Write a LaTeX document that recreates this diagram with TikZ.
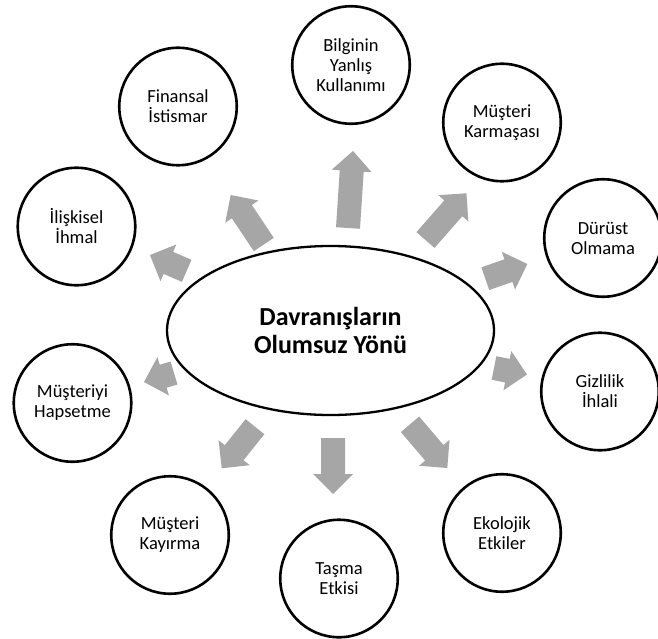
\documentclass[tikz,border=0pt]{standalone}
\usepackage{fontspec}
\setmainfont{Carlito}
\usetikzlibrary{calc,shapes.geometric}
\definecolor{arrowgray}{HTML}{A6A6A6}
% block arrow from tail coordinate #1 to tip coordinate #2
\newcommand\myblockarrow[2]{%
  \coordinate (ba-h) at ($(#2)!20pt!(#1)$);
  \fill[arrowfill] ($(#1)!12pt!90:(#2)$) -- ($(ba-h)!12pt!-90:(#1)$) -- ($(ba-h)!20pt!-90:(#1)$) -- (#2)
    -- ($(ba-h)!20pt!90:(#1)$) -- ($(ba-h)!12pt!90:(#1)$) -- ($(#1)!12pt!-90:(#2)$) -- cycle;}
\begin{document}
\begin{tikzpicture}[x=1pt,y=-1pt,
  bubble/.style={circle, draw=black, line width=2.6pt, minimum size=117.5pt, inner sep=0pt,
    align=center, font=\fontsize{18.5}{20}\selectfont},
  hub/.style={ellipse, draw=black, line width=2.3pt, minimum width=327pt, minimum height=169pt,
    inner sep=0pt, align=center, font=\bfseries\fontsize{26}{28}\selectfont},
  arrowfill/.style={fill=arrowgray}]
\fill[white] (0,0) rectangle (658,639);
\useasboundingbox (0,0) rectangle (658,639);

\node[hub] (hub) at (330.5,330.5) {Davranışların\\Olumsuz Yönü};

\node[bubble] (bilgi)  at (351,65)    {Bilginin\\Yanlış\\Kullanımı};
\node[bubble] (finans) at (178,106.5) {Finansal\\İstismar};
\node[bubble] (karma)  at (502,122.5) {Müşteri\\Karmaşası};
\node[bubble] (iliski) at (76.5,226.5) {İlişkisel\\İhmal};
\node[bubble] (durust) at (603,238)   {Dürüst\\Olmama};
\node[bubble] (hapset) at (72.5,403)  {Müşteriyi\\Hapsetme};
\node[bubble] (gizli)  at (600,391.5) {Gizlilik\\İhlali};
\node[bubble] (kayir)  at (170,535)   {Müşteri\\Kayırma};
\node[bubble] (tasma)  at (339,578.5) {Taşma\\Etkisi};
\node[bubble] (ekolo)  at (502,533)   {Ekolojik\\Etkiler};

\coordinate (t1) at (348,228);     \coordinate (p1) at (353,151);
\coordinate (t2) at (425.5,240);   \coordinate (p2) at (466.5,193.3);
\coordinate (t3) at (485.3,278.7); \coordinate (p3) at (527.3,264);
\coordinate (t4) at (494,368);     \coordinate (p4) at (527,374.5);
\coordinate (t5) at (410,424.3);   \coordinate (p5) at (447.3,468);
\coordinate (t6) at (333,438);     \coordinate (p6) at (333,494);
\coordinate (t7) at (255,426.7);   \coordinate (p7) at (221.7,468.3);
\coordinate (t8) at (174,373);     \coordinate (p8) at (144,382);
\coordinate (t9) at (186.7,270.8); \coordinate (p9) at (150,255);
\coordinate (t10) at (263.8,244.5); \coordinate (p10) at (230.7,195);

\myblockarrow{t1}{p1}
\myblockarrow{t2}{p2}
\myblockarrow{t3}{p3}
\myblockarrow{t4}{p4}
\myblockarrow{t5}{p5}
\myblockarrow{t6}{p6}
\myblockarrow{t7}{p7}
\myblockarrow{t8}{p8}
\myblockarrow{t9}{p9}
\myblockarrow{t10}{p10}
\end{tikzpicture}
\end{document}
